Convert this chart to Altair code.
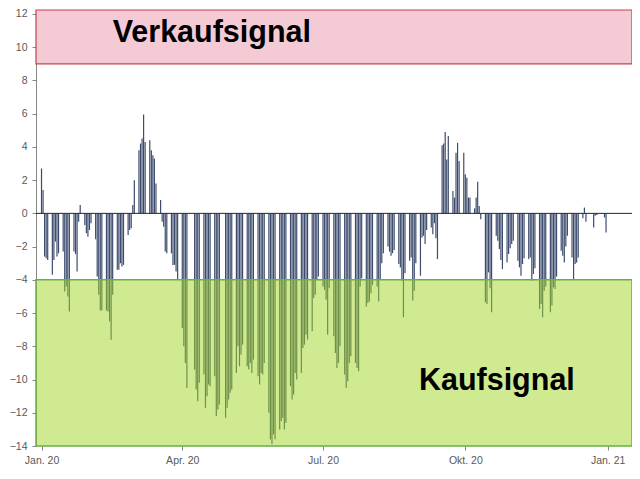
import altair as alt
import pandas as pd

# ---- data ----
first_monday = "2020-01-06"
# one list per trading week (Mon..Fri); None = exchange closed
weeks = [
    [2.7, 1.4, -2.6, -2.7, -2.8],
    [-3.7, -2.8, -1.7, -2.6, -2.4],
    [-2.3, -4.7, -4.4, -5.0, -5.9],
    [-2.3, -2.45, -3.5, -0.5, 0.5],
    [-0.7, -1.2, -1.4, -1.0, -0.6],
    [-1.55, -3.8, -4.9, -5.85, -5.85],
    [-5.85, -5.9, -6.5, -7.6, -4.9],
    [-3.4, -3.4, -3.0, -3.2, -3.1],
    [-1.3, -1.0, -0.9, 0.5, 2.0],
    [3.8, 4.2, 4.5, 5.95, 4.3],
    [4.4, 3.8, 3.5, 3.3, 1.8],
    [0.8, -0.5, -0.8, -2.3, -2.4],
    [-2.4, -3.1, -3.1, -3.5, -4.0],
    [-6.9, -8.0, -9.0, -10.5, None],
    [None, -9.4, -10.6, -11.3, -10.2],
    [-9.7, -11.7, -11.0, -10.3, -10.4],
    [-9.8, -12.2, -11.8, -11.5, None],
    [-12.3, -11.7, -11.2, -10.8, -10.6],
    [-9.6, -8.0, -9.2, -8.5, -7.9],
    [-9.2, -9.4, -9.0, -9.6, -8.8],
    [-9.8, -10.3, -9.6, -9.7, -9.0],
    [-12.0, -13.6, -13.9, -13.3, -13.6],
    [-13.0, -12.5, -12.3, -13.0, -12.6],
    [-10.4, -11.2, -10.9, -9.6, -10.0],
    [-9.6, -8.1, -7.9, -7.3, -7.6],
    [-7.1, -5.1, -4.9, -4.0, -3.8],
    [-4.4, -4.6, -5.2, -7.3, -4.5],
    [-7.4, -8.4, -9.3, -9.0, -8.0],
    [-9.7, -10.5, -10.1, -9.0, -8.6],
    [-9.0, -9.3, -9.5, -4.4, -3.9],
    [-5.6, -5.4, -5.3, -4.8, -4.3],
    [-4.4, -5.3, -4.0, -3.0, -2.4],
    [-2.0, -2.3, -2.55, -2.4, -2.2],
    [-3.05, -3.25, -4.05, -6.25, -3.6],
    [-2.85, -2.65, -5.25, -4.65, -3.0],
    [-3.75, -1.45, -1.35, -1.85, -1.0],
    [-0.85, -1.25, -0.6, -1.5, -2.75],
    [4.1, 4.2, 4.9, 3.25, 4.65],
    [1.35, 0.95, 3.65, 4.25, 3.15],
    [3.65, 2.35, 2.15, 0.95, 0.95],
    [0.3, 0.95, 1.9, 0.45, -0.35],
    [-5.35, -5.45, -3.55, -4.5, -5.95],
    [-1.35, -1.65, -2.15, -2.8, -3.35],
    [-2.95, -2.45, -2.1, -1.85, -1.65],
    [-2.85, -3.25, -3.75, -3.05, -2.7],
    [-2.75, -2.65, -4.05, -3.65, -3.3],
    [-5.75, -5.45, -6.25, -4.65, -4.4],
    [-5.95, -5.55, -4.45, -4.55, -3.8],
    [-2.25, -2.55, -2.95, -2.0, -1.35],
    [-2.65, -3.95, -3.05, -2.95, -2.65],
    [-0.3, 0.35, -0.5, None, None],
    [-0.85, -0.15, -0.1, None, None],
    [-0.25, -1.15],
]

tick_dates = ["2020-01-06", "2020-04-06", "2020-07-06", "2020-10-06", "2021-01-06"]
tick_labels = ["Jan. 20", "Apr. 20", "Jul. 20", "Okt. 20", "Jan. 21"]
x_domain = ["2020-01-05T16:00", "2021-01-18T13:00"]
y_ticks = list(range(-14, 13, 2))
y_domain = [-14, 12.24]
sell_zone = [9, 12.24]
buy_zone = [-14, -4]
zone_labels = ["Verkaufsignal", "Kaufsignal"]
zone_label_dates = ["2020-02-21", "2020-09-06"]
zone_label_values = [10.31, -10.63]

# ---- build tables ----
mondays = pd.date_range(first_monday, periods=len(weeks), freq="7D")
rows = []
for monday, vals in zip(mondays, weeks):
    for i, v in enumerate(vals):
        if v is not None:
            rows.append({"date": (monday + pd.Timedelta(days=i)).strftime("%Y-%m-%d"), "value": v})
df = pd.DataFrame(rows)

labels_df = pd.DataFrame({"date": zone_label_dates, "value": zone_label_values, "label": zone_labels})


def dt(s):
    t = pd.Timestamp(s)
    return alt.DateTime(year=t.year, month=t.month, date=t.day, hours=t.hour, minutes=t.minute)


W, H = 596, 436
FONT = "Liberation Sans"

label_expr = ""
for d, lab in zip(tick_dates, tick_labels):
    label_expr += f"timeFormat(datum.value, '%Y-%m') == '{d[:7]}' ? '{lab}' : "
label_expr += "''"

xscale = alt.Scale(domain=[dt(x_domain[0]), dt(x_domain[1])])
yscale = alt.Scale(domain=y_domain, nice=False, zero=False)
xaxis = alt.Axis(values=[dt(d) for d in tick_dates], labelExpr=label_expr, grid=False,
                 domain=False, ticks=True, tickSize=4, tickColor="#868686",
                 labelColor="#595959", labelFont=FONT, labelFontSize=10.5,
                 labelPadding=5, title=None, labelFlush=False)
yaxis = alt.Axis(values=y_ticks, grid=False, domainColor="#868686", tickColor="#868686",
                 tickSize=4, labelColor="#595959", labelFont=FONT, labelFontSize=10.5,
                 labelPadding=5, title=None)

sell = alt.Chart(pd.DataFrame({"lo": [sell_zone[0]], "hi": [sell_zone[1]]})).mark_rect(
    fill="#f4cbd4", stroke="#c8404f", strokeWidth=1.2
).encode(
    x=alt.value(0), x2=alt.value(W),
    y=alt.Y("lo:Q", scale=yscale, axis=yaxis), y2="hi:Q",
)

bars = alt.Chart(df).mark_bar(size=1.2, color="#3d4c6e").encode(
    x=alt.X("date:T", scale=xscale, axis=xaxis),
    y=alt.Y("value:Q", scale=yscale, axis=yaxis),
    y2=alt.datum(0),
)

buy = alt.Chart(pd.DataFrame({"lo": [buy_zone[0]], "hi": [buy_zone[1]]})).mark_rect(
    fill="#a0d523", fillOpacity=0.5, stroke="#6aaf45", strokeWidth=1.5
).encode(
    x=alt.value(0), x2=alt.value(W),
    y=alt.Y("lo:Q", scale=yscale, axis=yaxis), y2="hi:Q",
)

zero = alt.Chart(pd.DataFrame({"z": [0]})).mark_rule(color="#262626", strokeWidth=1).encode(
    x=alt.value(0), x2=alt.value(W),
    y=alt.Y("z:Q", scale=yscale, axis=yaxis),
)

texts = alt.Chart(labels_df).mark_text(
    font=FONT, fontWeight="bold", fontSize=30.5, align="left", baseline="alphabetic", color="black"
).encode(
    x=alt.X("date:T", scale=xscale, axis=xaxis),
    y=alt.Y("value:Q", scale=yscale, axis=yaxis),
    text="label:N",
)

chart = alt.layer(sell, bars, buy, zero, texts).properties(
    width=W, height=H,
    autosize=alt.AutoSizeParams(type="none"),
    padding={"left": 28, "top": 2, "right": 0, "bottom": 20},
).configure_view(stroke=None)

chart.save("out.html", embed_options={"renderer": "svg", "actions": False})
